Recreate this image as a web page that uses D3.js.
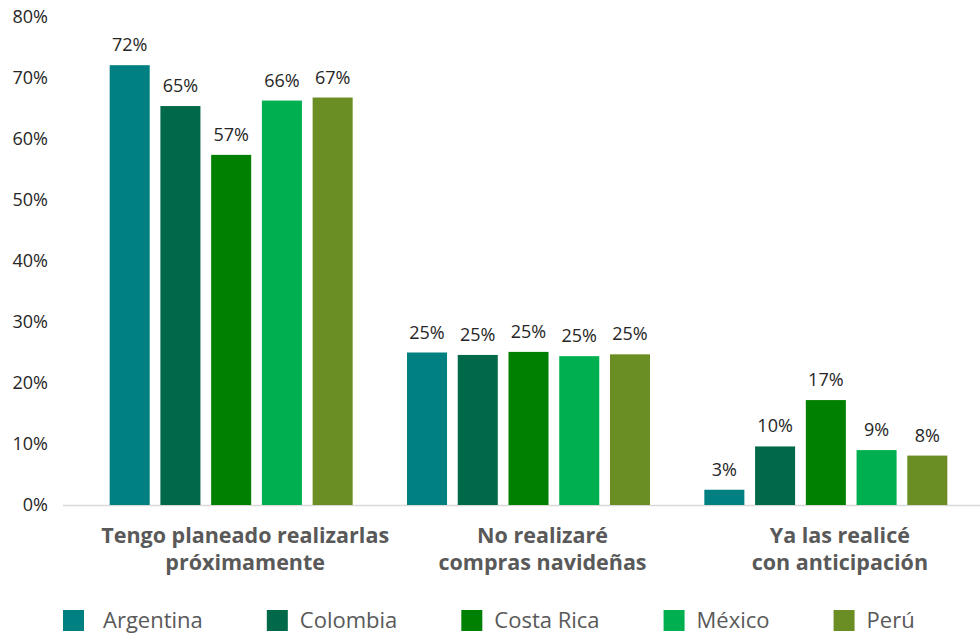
<!DOCTYPE html>
<html>
<head>
<meta charset="utf-8">
<script src="https://cdn.jsdelivr.net/npm/d3@7"></script>
<style>
  html, body { margin: 0; padding: 0; background: #ffffff; }
  svg { display: block; font-family: "Open Sans", "Noto Sans", sans-serif; }
</style>
</head>
<body>
<svg id="chart" width="980" height="634"></svg>
<script>
// ---- data ----
const categories = [
  ["Tengo planeado realizarlas", "próximamente"],
  ["No realizaré", "compras navideñas"],
  ["Ya las realicé", "con anticipación"]
];
const countries = ["Argentina", "Colombia", "Costa Rica", "México", "Perú"];
const argentina = [72.1, 25.0, 2.5];
const colombia  = [65.4, 24.6, 9.6];
const costaRica = [57.4, 25.1, 17.2];
const mexico    = [66.3, 24.4, 9.0];
const peru      = [66.8, 24.7, 8.1];
const valueLabels = [
  ["72%", "25%", "3%"],
  ["65%", "25%", "10%"],
  ["57%", "25%", "17%"],
  ["66%", "25%", "9%"],
  ["67%", "25%", "8%"]
];
const yTicks = [0, 10, 20, 30, 40, 50, 60, 70, 80];
const colors = ["#008080", "#00694A", "#008000", "#00B050", "#6A8E23"];

const series = [argentina, colombia, costaRica, mexico, peru];

// ---- layout ----
const svg = d3.select("#chart");
const catIdx = categories.map((d, i) => i);

const y = d3.scaleLinear().domain([0, 80]).range([505, 17]);
const x0 = d3.scaleBand().domain(catIdx).range([82.5, 974.5]).paddingInner(0).paddingOuter(0);
const groupW = 243;
const x1 = d3.scaleBand().domain(countries).range([0, groupW]).paddingInner(0.211).paddingOuter(0);
const color = d3.scaleOrdinal().domain(countries).range(colors);

// y axis labels
const yAxis = d3.axisLeft(y).tickValues(yTicks).tickFormat(d => d + "%").tickSize(0).tickPadding(0);
const yg = svg.append("g").attr("transform", "translate(48,0)").call(yAxis);
yg.select(".domain").remove();
yg.selectAll("text")
  .attr("font-family", "'Open Sans', sans-serif")
  .attr("font-size", 18)
  .attr("fill", "#262626");

// baseline
svg.append("line")
  .attr("x1", 63).attr("x2", 980)
  .attr("y1", y(0) + 0.5).attr("y2", y(0) + 0.5)
  .attr("stroke", "#d9d9d9").attr("stroke-width", 1.5);

// bars
const groups = svg.append("g").selectAll("g")
  .data(catIdx)
  .join("g")
  .attr("transform", c => `translate(${x0(c) + (x0.bandwidth() - groupW) / 2},0)`);

groups.selectAll("rect")
  .data(c => countries.map((k, s) => ({ k, s, c, v: series[s][c] })))
  .join("rect")
  .attr("x", d => x1(d.k))
  .attr("width", x1.bandwidth())
  .attr("y", d => y(d.v))
  .attr("height", d => y(0) - y(d.v))
  .attr("fill", d => color(d.k));

groups.selectAll("text.val")
  .data(c => countries.map((k, s) => ({ k, s, c, v: series[s][c] })))
  .join("text")
  .attr("class", "val")
  .attr("x", d => x1(d.k) + x1.bandwidth() / 2)
  .attr("y", d => y(d.v) - 14)
  .attr("text-anchor", "middle")
  .attr("font-size", 18)
  .attr("fill", "#262626")
  .text(d => valueLabels[d.s][d.c]);

// category labels
const catLabels = svg.append("g").selectAll("text")
  .data(catIdx)
  .join("text")
  .attr("text-anchor", "middle")
  .attr("font-size", 21.5)
  .attr("font-weight", "bold")
  .attr("fill", "#595959")
  .attr("transform", c => `translate(${x0(c) + x0.bandwidth() / 2 + 14},0)`);
catLabels.selectAll("tspan")
  .data(c => categories[c])
  .join("tspan")
  .attr("x", 0)
  .attr("y", (d, i) => 543 + i * 27)
  .text(d => d);

// legend
const legend = svg.append("g");
let lx = 63;
countries.forEach((k, i) => {
  const g = legend.append("g").attr("transform", `translate(${lx},0)`);
  g.append("rect").attr("x", 0).attr("y", 610).attr("width", 21).attr("height", 21).attr("fill", color(k));
  const off = i === 0 ? 40 : 33;
  const t = g.append("text")
    .attr("x", off)
    .attr("y", 628)
    .attr("font-size", 22)
    .attr("fill", "#595959")
    .text(k);
  const w = t.node().getComputedTextLength();
  lx += off + w + 64;
});
</script>
</body>
</html>
